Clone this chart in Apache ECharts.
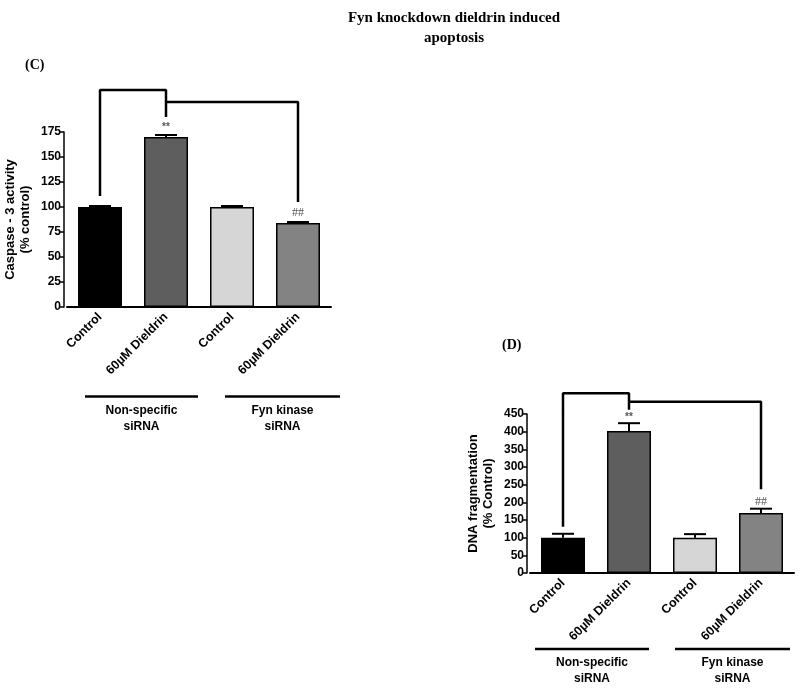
<!DOCTYPE html>
<html>
<head>
<meta charset="utf-8">
<script src="https://cdn.jsdelivr.net/npm/echarts@6/dist/echarts.min.js"></script>
<style>html,body{margin:0;padding:0;background:#fff;}#chart{width:800px;height:688px;}</style>
</head>
<body>
<div id="chart"></div>
<script>
const categories = ['Control', '60µM Dieldrin', 'Control', '60µM Dieldrin'];
const groupLabels = ['Non-specific\nsiRNA', 'Fyn kinase\nsiRNA'];
const barColors = ['#000000', '#5e5e5e', '#d6d6d6', '#838383'];

// Panel C: Caspase-3 activity
const caspaseValues = [100, 170, 100, 84];
const caspaseErrors = [1, 2, 1, 1];
const caspaseTicks = [0, 25, 50, 75, 100, 125, 150, 175];
const caspaseSig = [[1, 180, '**'], [3, 94, '##']];
const caspaseBracketA = [[0, 111], [0, 217], [1, 217], [1, 190]];
const caspaseBracketB = [[1, 205], [3, 205], [3, 105]];

// Panel D: DNA fragmentation
const dnaValues = [100, 402, 100, 170];
const dnaErrors = [11, 22, 10, 12];
const dnaTicks = [0, 50, 100, 150, 200, 250, 300, 350, 400, 450];
const dnaSig = [[1, 442, '**'], [3, 202, '##']];
const dnaBracketA = [[0, 131], [0, 509], [1, 509], [1, 462]];
const dnaBracketB = [[1, 485], [3, 485], [3, 237]];

const sans = '"Liberation Sans", Arial, sans-serif';
const serif = '"Liberation Serif", "Times New Roman", serif';

function xAxisCfg(gi) {
  return {
    type: 'category', gridIndex: gi, data: categories,
    axisLine: { lineStyle: { color: '#000', width: 2 } },
    axisTick: { show: false },
    axisLabel: { rotate: 45, margin: 8, color: '#000', fontFamily: sans, fontWeight: 'bold', fontSize: 12.5 }
  };
}
function yAxisCfg(gi, ticks, name, gap) {
  return {
    type: 'value', gridIndex: gi, min: ticks[0], max: ticks[ticks.length - 1],
    interval: ticks[1] - ticks[0], offset: 3,
    name: name, nameLocation: 'middle', nameGap: gap,
    nameTextStyle: { color: '#000', fontFamily: sans, fontWeight: 'bold', fontSize: 13, lineHeight: 15 },
    axisLine: { show: true, lineStyle: { color: '#000', width: 1.5 } },
    axisTick: { show: true, length: 5, lineStyle: { color: '#000', width: 1.5 } },
    axisLabel: { margin: 3, color: '#000', fontFamily: sans, fontWeight: 'bold', fontSize: 12 },
    splitLine: { show: false }
  };
}
function barSeries(gi, values) {
  return {
    type: 'bar', xAxisIndex: gi, yAxisIndex: gi, barWidth: 44,
    data: values.map((v, i) => ({ value: v, itemStyle: { color: barColors[i] } })),
    itemStyle: { borderColor: '#000', borderWidth: 1.5 }, silent: true
  };
}
function errSeries(gi, values, errs) {
  return {
    type: 'custom', xAxisIndex: gi, yAxisIndex: gi, z: 5, silent: true,
    data: values.map((v, i) => [i, v, errs[i]]),
    encode: { x: 0, y: 1 },
    renderItem: function (params, api) {
      const base = api.coord([api.value(0), api.value(1)]);
      const top = api.coord([api.value(0), api.value(1) + api.value(2)]);
      return {
        type: 'group', children: [
          { type: 'line', shape: { x1: base[0], y1: base[1], x2: top[0], y2: top[1] }, style: { stroke: '#000', lineWidth: 2 } },
          { type: 'line', shape: { x1: top[0] - 11, y1: top[1], x2: top[0] + 11, y2: top[1] }, style: { stroke: '#000', lineWidth: 2 } }
        ]
      };
    }
  };
}
function sigSeries(gi, sig) {
  return {
    type: 'custom', xAxisIndex: gi, yAxisIndex: gi, z: 6, silent: true, clip: false,
    data: sig.map(s => [s[0], s[1], s[2]]),
    encode: { x: 0, y: 1 },
    renderItem: function (params, api) {
      const p = api.coord([api.value(0), api.value(1)]);
      const txt = sig[params.dataIndex][2];
      const isStar = txt === '**';
      return {
        type: 'text',
        style: {
          x: p[0], y: p[1], text: txt, align: 'center', verticalAlign: 'middle',
          fill: '#555', font: isStar ? 'bold 10px ' + sans : '12px ' + serif
        }
      };
    }
  };
}
function bracketSeries(gi, pts) {
  return {
    type: 'line', xAxisIndex: gi, yAxisIndex: gi, data: pts, clip: false, silent: true,
    symbol: 'none', z: 7, lineStyle: { color: '#000', width: 2.5 }, animation: false
  };
}

const chart = echarts.init(document.getElementById('chart'), null, { renderer: 'canvas' });

function groupGraphics(y, spans, textY) {
  const out = [];
  spans.forEach((s, k) => {
    out.push({ type: 'line', shape: { x1: s[0], y1: y, x2: s[1], y2: y }, style: { stroke: '#000', lineWidth: 2.5 } });
    out.push({ type: 'text', x: (s[0] + s[1]) / 2 + (s[2] || 0), y: textY,
      style: { text: groupLabels[k], textAlign: 'center', textVerticalAlign: 'top', fill: '#000',
        font: 'bold 12px ' + sans, lineHeight: 16 } });
  });
  return out;
}

const option = {
  animation: false,
  title: {
    text: 'Fyn knockdown dieldrin induced\napoptosis', left: 449, top: 3, textAlign: 'center',
    textStyle: { fontFamily: serif, fontWeight: 'bold', fontSize: 15, lineHeight: 20, color: '#000' }
  },
  grid: [
    { left: 67, top: 132, width: 264, height: 175 },
    { left: 530, top: 414, width: 264, height: 159 }
  ],
  xAxis: [xAxisCfg(0), xAxisCfg(1)],
  yAxis: [
    yAxisCfg(0, caspaseTicks, 'Caspase - 3 activity\n(% control)', 31),
    yAxisCfg(1, dnaTicks, 'DNA fragmentation\n(% Control)', 31)
  ],
  series: [
    barSeries(0, caspaseValues), errSeries(0, caspaseValues, caspaseErrors), sigSeries(0, caspaseSig),
    bracketSeries(0, caspaseBracketA), bracketSeries(0, caspaseBracketB),
    barSeries(1, dnaValues), errSeries(1, dnaValues, dnaErrors), sigSeries(1, dnaSig),
    bracketSeries(1, dnaBracketA), bracketSeries(1, dnaBracketB)
  ],
  graphic: [
    { type: 'text', x: 25, y: 58, style: { text: '(C)', font: 'bold 14px ' + serif, fill: '#000' } },
    { type: 'text', x: 502, y: 338, style: { text: '(D)', font: 'bold 14px ' + serif, fill: '#000' } }
  ].concat(groupGraphics(396.5, [[85, 198, 0], [225, 340, 0]], 403))
   .concat(groupGraphics(649, [[535, 649, 0], [675, 790, 0]], 655))
};
chart.setOption(option);
</script>
</body>
</html>
